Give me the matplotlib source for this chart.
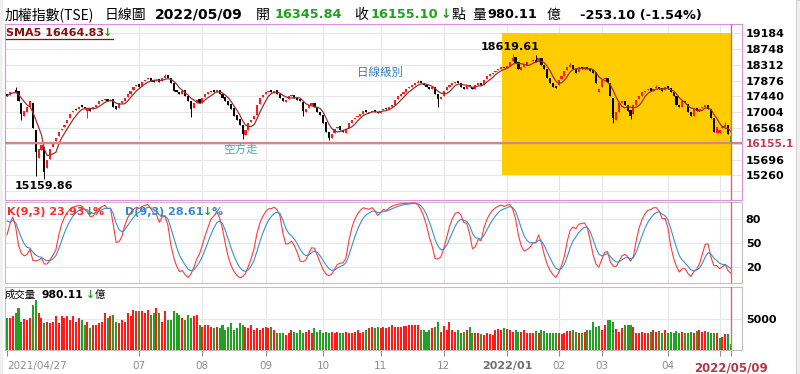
import numpy as np
import pandas as pd
import matplotlib
matplotlib.use("Agg")
import matplotlib.pyplot as plt
from matplotlib.patches import Rectangle
from matplotlib.lines import Line2D

W, H = 800, 374
CJK = ['Noto Sans CJK TC', 'DejaVu Sans']

# trading days per month, 2021/04/27 .. 2022/05/09
month_days = [4, 21, 21, 22, 22, 20, 20, 22, 22, 18, 15, 23, 18, 5]
month_names = ['', '', '', '07', '08', '09', '10', '11', '12', '2022/01', '02', '03', '04', '']

close = [
    17450, 17560, 17600, 17566,
    17300, 16950, 17050, 17150, 17300, 16580, 15900, 16000, 16100, 15350, 15670, 16000, 16150, 16300, 16450, 16550, 16650, 16800, 16950, 17050, 17070,
    17160, 17150, 17080, 17100, 17050, 17150, 17200, 17300, 17350, 17370, 17300, 17350, 17150, 17100, 17250, 17300, 17400, 17500, 17600, 17700, 17755,
    17710, 17850, 17900, 17950, 17870, 17850, 17900, 17850, 17950, 18000, 17950, 17800, 17600, 17550, 17500, 17600, 17450, 17300, 17100, 17250, 17350, 17247,
    17400, 17500, 17550, 17600, 17550, 17620, 17500, 17400, 17300, 17200, 17100, 16900, 16800, 16650, 16400, 16500, 16700, 16800, 16900, 17200, 17400, 17490,
    17550, 17600, 17550, 17600, 17500, 17400, 17300, 17350, 17450, 17480, 17400, 17350, 17300, 17050, 17100, 17200, 17250, 17150, 17000, 16935,
    16700, 16450, 16300, 16400, 16550, 16600, 16500, 16450, 16550, 16700, 16800, 16850, 16900, 16950, 17050, 17000, 17000, 17050, 17000, 16990,
    17050, 17100, 17100, 17150, 17200, 17350, 17450, 17500, 17550, 17650, 17700, 17750, 17800, 17850, 17800, 17750, 17700, 17650, 17700, 17500, 17370, 17430,
    17600, 17700, 17750, 17800, 17850, 17800, 17700, 17650, 17750, 17700, 17650, 17750, 17800, 17750, 17900, 18000, 18050, 18100, 18150, 18200, 18250, 18218,
    18270, 18400, 18500, 18370, 18200, 18250, 18300, 18380, 18400, 18450, 18400, 18500, 18300, 18200, 17950, 17800, 17700, 17674,
    17900, 18000, 18150, 18250, 18300, 18200, 18100, 18250, 18200, 18250, 18200, 18150, 18100, 17800, 17652,
    17900, 17950, 17850, 17450, 16850, 17000, 17250, 17300, 17200, 17050, 16900, 17200, 17350, 17450, 17550, 17600, 17650, 17600, 17650, 17700, 17650, 17600, 17693,
    17650, 17550, 17450, 17200, 17150, 17300, 17250, 17000, 16900, 17100, 17050, 17100, 17150, 17200, 17100, 16850, 16450, 16592,
    16500, 16620, 16641, 16408, 16155.1,
]

open_ = [
    17500, 17480, 17580, 17620,
    17600, 17250, 16900, 17000, 17150, 17250, 16500, 15750, 15950, 16050, 15450, 15700, 16050, 16200, 16350, 16500, 16600, 16700, 16850, 17000, 17100,
    17100, 17200, 17150, 17050, 17120, 17080, 17150, 17220, 17320, 17330, 17380, 17300, 17360, 17180, 17120, 17260, 17320, 17420, 17520, 17620, 17720,
    17780, 17730, 17860, 17920, 17960, 17880, 17860, 17920, 17860, 17960, 18020, 17950, 17800, 17620, 17560, 17520, 17620, 17460, 17300, 17120, 17260, 17360,
    17260, 17420, 17510, 17560, 17620, 17560, 17630, 17510, 17420, 17320, 17220, 17120, 16920, 16820, 16660, 16380, 16520, 16720, 16820, 16920, 17220, 17420,
    17500, 17560, 17620, 17540, 17610, 17510, 17410, 17280, 17360, 17460, 17490, 17410, 17360, 17280, 17020, 17110, 17210, 17260, 17160, 17010,
    16930, 16720, 16460, 16280, 16420, 16560, 16610, 16510, 16430, 16560, 16710, 16810, 16860, 16910, 16960, 17060, 16980, 17010, 17060, 17010,
    16990, 17060, 17120, 17090, 17160, 17210, 17360, 17460, 17510, 17560, 17660, 17710, 17760, 17810, 17860, 17810, 17760, 17710, 17640, 17710, 17510, 17380,
    17450, 17610, 17710, 17760, 17810, 17860, 17810, 17710, 17640, 17760, 17710, 17640, 17760, 17810, 17760, 17910, 18010, 18060, 18110, 18160, 18210, 18260,
    18230, 18290, 18420, 18520, 18380, 18180, 18260, 18310, 18390, 18410, 18460, 18390, 18510, 18310, 18210, 17960, 17810, 17720,
    17750, 17910, 18010, 18160, 18260, 18310, 18210, 18110, 18260, 18190, 18260, 18210, 18160, 18110, 17560,
    17700, 17910, 17960, 17820, 17400, 16800, 17020, 17260, 17310, 17210, 17060, 16950, 17210, 17360, 17460, 17560, 17610, 17660, 17590, 17660, 17710, 17660, 17610,
    17720, 17660, 17560, 17440, 17210, 17160, 17310, 17240, 17010, 16910, 17110, 17040, 17110, 17160, 17210, 17090, 16830, 16420,
    16420, 16560, 16600, 16660, 16345.84,
]

# visible shadows (bar index -> price)
high_marks = {3: 17700, 55: 18050, 143: 17900, 176: 18619.61, 184: 18580, 196: 18350, 226: 17750, 250: 16720}
low_marks = {5: 16800, 10: 15250, 13: 15159.86, 28: 16850, 64: 16880, 82: 16250, 103: 16900,
             112: 16248, 150: 17150, 211: 16700, 217: 16820, 252: 16100}

# volume, 億
vol = [
    5160, 5160, 5540, 5970, 6790, 4600, 5000, 4780, 5160, 7330, 8040, 5970, 5160,
    4340, 4600, 4340, 4600, 5430, 4340, 5430, 5160, 5430, 4890, 5430, 4600,
    5160, 4890, 4070, 4600, 3530, 4070, 4070, 4340, 4600, 5970, 5160, 5430,
    5700, 4600, 4340, 4890, 4600, 5970, 5430, 6520, 6250, 6250, 6250, 5970,
    6520, 5700, 5970, 6790, 5970, 4600, 6250, 4890, 4890, 6250, 5970, 5700,
    5160, 4890, 5700, 5160, 5430, 5700, 4070, 3800, 4070, 4070, 3800, 3530,
    3800, 3530, 4070, 3260, 3800, 4340, 3260, 3530, 4340, 4070, 3800, 3530,
    4070, 3260, 3530, 3260, 3530, 3800, 3530, 3800, 3260, 2720, 2720, 2720,
    2440, 2720, 3260, 2990, 2720, 3260, 2720, 2990, 3260, 2720, 3530, 2990,
    3260, 2720, 2990, 2720, 2990, 2720, 2990, 2720, 2720, 2990, 2720, 2720,
    2990, 3260, 2720, 2990, 3260, 3530, 3800, 3530, 3800, 3530, 3800, 3530,
    3800, 4070, 3800, 3800,
    3800, 3910, 3910, 4070, 4070, 4070, 4070,
    3260, 3260, 2990, 3260, 3530, 3800, 4600, 2990,
    3910, 3260, 4600, 3260, 2990, 3260, 2720, 2990, 3260, 3800, 2720, 2720,
    2720, 2610, 2440, 2720, 2610, 2440, 3260, 3370, 3260, 3530, 3370,
    3260, 2990, 3260, 2990, 2990, 3260, 2830, 2720, 2720, 3150,
    2830, 3260, 3150, 2830, 2720, 2830, 2720, 2720, 2610, 2830,
    3150, 3150, 3260, 2990, 2830, 2720, 2990, 3260, 3260, 4600,
    3800, 3910, 3260, 4070, 4890, 4780, 4600, 3370, 2990, 3530, 4070,
    4070, 4070, 3800, 2720, 2830, 2990, 2720, 2830, 2990, 3260, 2990, 3150, 2720,
    3260, 2720, 2990, 2720, 3150, 2720, 2990, 2830, 2720, 2990, 2720, 3150, 3260,
    2990, 3150, 2990, 2830, 2720, 2720, 1900, 2060, 2610, 2550, 980.11,
]

kd_start = (90, 86)        # K, D at the left edge of the chart
price_ticks = [19184, 18748, 18312, 17876, 17440, 17004, 16568, 15696, 15260]
price_grid = [19184, 18748, 18312, 17876, 17440, 17004, 16568, 16132, 15696, 15260, 14824]
last_price = 16155.1
zone = (172.2, 15260, 252, 19184)   # highlighted box: x0, y0, x1, y1

n = len(close)
assert len(open_) == n and len(vol) == n and sum(month_days) == n, (len(open_), len(vol), n)

c = np.array(close, float)
o = np.array(open_, float)
hi = np.maximum(o, c)
lo = np.minimum(o, c)
for k, v in high_marks.items():
    hi[k] = v
for k, v in low_marks.items():
    lo[k] = v
x = np.arange(n)

sma5 = pd.Series(c).rolling(5, min_periods=1).mean()
K, D = [], []
kv, dv = kd_start
for i in range(n):
    h9 = hi[max(0, i - 8):i + 1].max()
    l9 = lo[max(0, i - 8):i + 1].min()
    rsv = (c[i] - l9) / (h9 - l9) * 100 if h9 > l9 else 50
    kv = kv * 2 / 3 + rsv / 3
    dv = dv * 2 / 3 + kv / 3
    K.append(kv)
    D.append(dv)

starts = np.cumsum([0] + month_days[:-1])
RED, GREEN = '#ff1a1a', '#22a022'

fig = plt.figure(figsize=(8, 3.74), dpi=100)
fig.patch.set_facecolor('white')


def box(l, t, r, b):
    return [l / W, 1 - b / H, (r - l) / W, (b - t) / H]


def ftext(px, py, s, size=8, color='black', bold=False, cjk=False, ha='left'):
    fig.text(px / W, 1 - py / H, s, fontsize=size, color=color,
             fontweight='bold' if bold else 'normal',
             family=CJK if cjk else 'DejaVu Sans', ha=ha, va='center')


ax1 = fig.add_axes(box(5, 24, 741.7, 200))
ax2 = fig.add_axes(box(5, 202, 741.7, 283), sharex=ax1)
ax3 = fig.add_axes(box(5, 287, 741.7, 350), sharex=ax1)

for ax in (ax1, ax2, ax3):
    ax.set_xlim(-0.7, 255.7)
    ax.yaxis.tick_right()
    ax.tick_params(axis='y', length=0, pad=3, labelsize=8)
    for s in starts[3:]:
        ax.axvline(s, color='#e6e6e6', lw=0.8, zorder=0)
    ax.axvline(n - 1, color='#d07070', lw=1, zorder=5)

# price panel
ax1.set_ylim(14578, 19441)
for g in price_grid:
    ax1.axhline(g, color='#e6e6e6', lw=0.8, zorder=0)
ax1.add_patch(Rectangle((zone[0], zone[1]), zone[2] - zone[0], zone[3] - zone[1],
                        facecolor='#ffcc00', edgecolor='none', zorder=1))
cols = [RED if c[i] > o[i] else 'black' for i in range(n)]
cols[-1] = '#2e9e4e'
body = np.maximum(np.abs(c - o), 12)
ax1.vlines(x, lo, hi, colors=cols, lw=0.7, zorder=3)
ax1.bar(x, body, bottom=np.minimum(o, c), width=0.75, color=cols, zorder=3)
ax1.plot(x, sma5, color='#9a3030', lw=0.9, zorder=4)
ax1.axhline(last_price, color='#d08888', lw=1.6, zorder=4)
ax1.set_yticks(price_ticks + [last_price])
ax1.set_yticklabels([str(t) for t in price_ticks] + ['16155.1'], fontweight='bold')
ax1.get_yticklabels()[-1].set_color('#c04050')
ax1.get_yticklabels()[-1].set_fontsize(7.7)
ax1.annotate('18619.61', (176, 18619.61), xytext=(-2, 1.5), textcoords='offset points',
             ha='center', va='bottom', fontsize=8, fontweight='bold')
ax1.annotate('15159.86', (13, 15159.86), xytext=(0, -1.5), textcoords='offset points',
             ha='center', va='top', fontsize=8, fontweight='bold')
for sp in ax1.spines.values():
    sp.set_color('#e08ee0')
plt.setp(ax1.get_xticklabels(), visible=False)
ax1.tick_params(axis='x', length=0)

# KD panel
ax2.set_ylim(0, 101)
for g in (20, 50, 80):
    ax2.axhline(g, color='#e6e6e6', lw=0.8, zorder=0)
ax2.plot(x, K, color='#ff3b3b', lw=0.8, zorder=3)
ax2.plot(x, D, color='#3d8fd0', lw=0.8, zorder=3)
ax2.set_yticks([20, 50, 80])
ax2.set_yticklabels(['20', '50', '80'], fontweight='bold')
plt.setp(ax2.get_xticklabels(), visible=False)
ax2.tick_params(axis='x', length=0)
for sp in ax2.spines.values():
    sp.set_color('#c8bcbc')

# volume panel
ax3.set_ylim(0, 10200)
ax3.axhline(5000, color='#e6e6e6', lw=0.8, zorder=0)
vcols = [GREEN] + [RED if c[i] >= c[i - 1] else GREEN for i in range(1, n)]
ax3.bar(x, vol, width=0.7, color=vcols, zorder=3)
ax3.set_yticks([5000])
ax3.set_yticklabels(['5000'], fontweight='bold')
for sp in ax3.spines.values():
    sp.set_color('#c8bcbc')
xt = list(starts[3:]) + [n - 1]
ax3.set_xticks([0] + xt)
ax3.set_xticklabels(['2021/04/27'] + month_names[3:] + ['2022/05/09'])
ax3.tick_params(axis='x', length=4, pad=4, labelsize=7.5, colors='#8c8c8c', direction='out')
labs = ax3.get_xticklabels()
labs[0].set_ha('left')
for lb in labs:
    if lb.get_text() == '2022/01':
        lb.set_fontweight('bold')
        lb.set_color('#707070')
        lb.set_fontsize(8)
    if lb.get_text() == '2022/05/09':
        lb.set_fontweight('bold')
        lb.set_color('#b03a4a')
        lb.set_fontsize(8.5)

# header
ftext(5, 15, '加權指數(TSE)', 10, cjk=True)
ftext(105, 15, '日線圖', 10, cjk=True)
ftext(155, 15, '2022/05/09', 10, bold=True)
ftext(256, 15, '開', 10, cjk=True)
ftext(275, 15, '16345.84', 9.3, GREEN, bold=True)
ftext(354, 15, '收', 10, cjk=True)
ftext(371, 15, '16155.10', 9.3, GREEN, bold=True)
ftext(441, 15, '↓', 9, GREEN, bold=True)
ftext(452, 15, '點', 10, cjk=True)
ftext(472, 15, '量', 10, cjk=True)
ftext(487, 15, '980.11', 9.3, bold=True)
ftext(547, 15, '億', 10, cjk=True)
ftext(580, 15, '-253.10 (-1.54%)', 9.3, bold=True)

# panel legends
ftext(6, 33, 'SMA5 16464.83', 8, '#8b1010', bold=True)
ftext(103, 33, '↓', 8, GREEN, bold=True)
fig.add_artist(Line2D([6 / W, 113 / W], [1 - 38.5 / H] * 2, color='#8b1010', lw=0.9))
ftext(7, 212, 'K(9,3) 23.93', 8, '#ff2a2a', bold=True)
ftext(85, 212, '↓', 8, GREEN, bold=True)
ftext(93, 212, '%', 8, '#ff2a2a', bold=True)
ftext(125, 212, 'D(9,3) 28.61', 8, '#3a8ac8', bold=True)
ftext(203, 212, '↓', 8, GREEN, bold=True)
ftext(212, 212, '%', 8, '#3a8ac8', bold=True)
ftext(5, 295, '成交量', 7.5, cjk=True)
ftext(41, 295, '980.11', 7.8, bold=True)
ftext(86, 295, '↓', 7.8, GREEN, bold=True)
ftext(95, 295, '億', 7.5, cjk=True)

ftext(380, 72, '日線級別', 8.3, '#3a80c0', cjk=True, ha='center')
ftext(240, 149, '空方走', 8.3, '#3fb0b8', cjk=True, ha='center')

# window frame
fig.add_artist(Rectangle((796 / W, 0), 4 / W, 1, transform=fig.transFigure,
                         facecolor='#f0f0f0', edgecolor='#d0d0d0', lw=0.8))
fig.add_artist(Rectangle((0, 0), 3 / W, 1, transform=fig.transFigure,
                         facecolor='#f0f0f0', edgecolor='none'))

fig.savefig('out.png', dpi=100, facecolor='white')
